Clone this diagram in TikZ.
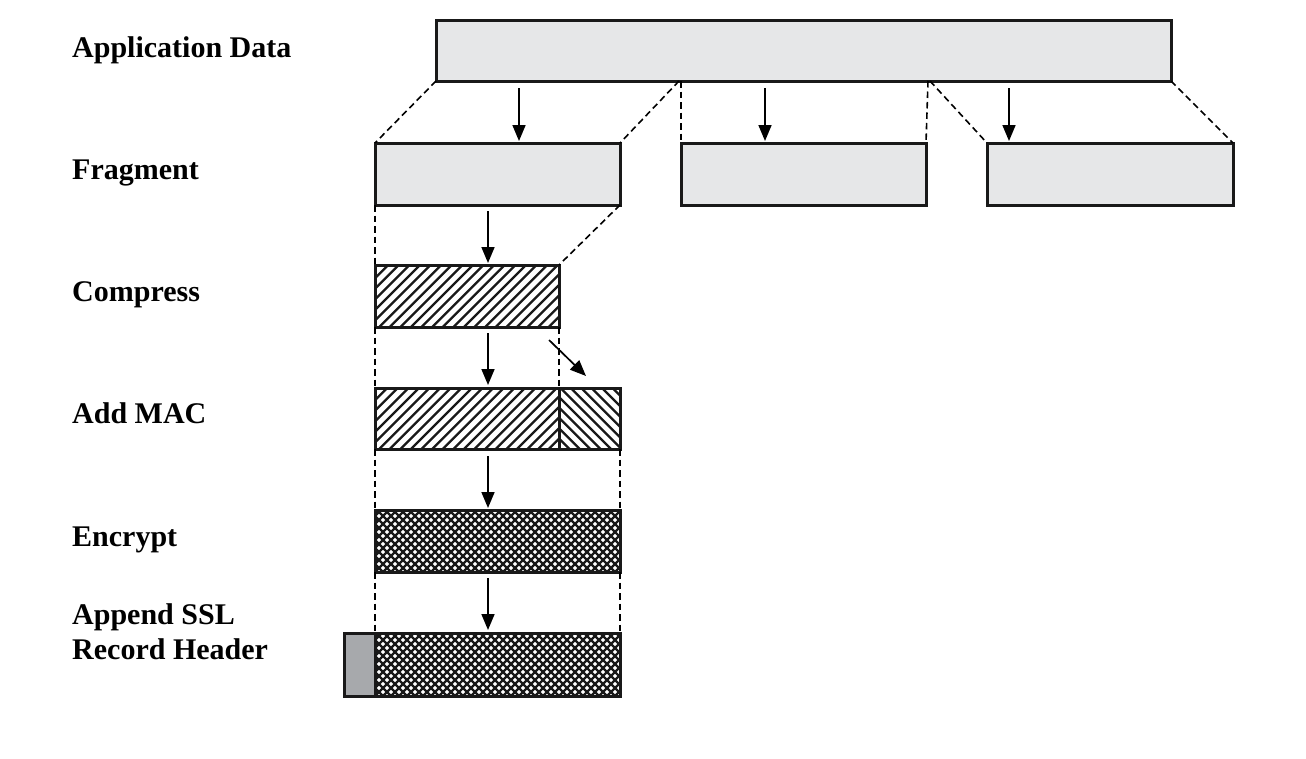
\documentclass[tikz,border=0pt]{standalone}
\usepackage{fontspec}
\setmainfont{Liberation Serif}
\usetikzlibrary{calc,arrows.meta}
\definecolor{lightbox}{HTML}{E6E7E8}
\definecolor{hdrgray}{HTML}{A7A9AC}
\tikzset{
  blk/.style={draw=black!90,line width=3pt,rectangle,inner sep=0pt,outer sep=0pt,anchor=north west},
  plainbox/.style={blk,fill=lightbox},
  nehatch/.style 2 args={path picture={
      \foreach \k in {0,...,48}
        \draw[line width=#2] ($(path picture bounding box.south west)+(\k*#1-70,0)$) -- ++(80,-80);}},
  nwhatch/.style 2 args={path picture={
      \foreach \k in {0,...,48}
        \draw[line width=#2] ($(path picture bounding box.south west)+(\k*#1,0)$) -- ++(-80,-80);}},
  nelines/.style={blk,nehatch={10.6}{2.3pt}},
  nwlines/.style={blk,nwhatch={10.4}{2.3pt}},
  xhatch/.style={blk,path picture={
      \foreach \k in {0,...,50}{
        \draw[line width=2.4pt] ($(path picture bounding box.south west)+(\k*8-72,0)$) -- ++(80,-80);
        \draw[line width=2.4pt] ($(path picture bounding box.south west)+(\k*8,0)$) -- ++(-80,-80);}}},
  hdrbox/.style={blk,fill=hdrgray},
  dline/.style={line width=1.6pt,dash pattern=on 6.5pt off 4pt},
  arr/.style={line width=1.7pt,-{Triangle[length=16pt,width=13pt]}},
  lbl/.style={font=\fontsize{30}{35}\selectfont\bfseries,inner sep=0pt,anchor=base west,align=left}
}
\begin{document}
\begin{tikzpicture}[x=1pt,y=-1pt]
\useasboundingbox (0,0) rectangle (1306,758);
% labels
\node[lbl] (lapp) at (72,57) {Application Data};
\node[lbl] (lfrag) at (72,179) {Fragment};
\node[lbl] (lcmp) at (72,301) {Compress};
\node[lbl] (lmac) at (72,423) {Add MAC};
\node[lbl] (lenc) at (72,546) {Encrypt};
\node[lbl] (lrec) at (72,659) {Append SSL\\Record Header};
% boxes
\node[plainbox,minimum width=735pt,minimum height=61pt] (app) at (436,20) {};
\node[plainbox,minimum width=245pt,minimum height=62pt] (f1) at (375,143) {};
\node[plainbox,minimum width=245pt,minimum height=62pt] (f2) at (681,143) {};
\node[plainbox,minimum width=246pt,minimum height=62pt] (f3) at (987,143) {};
\node[nelines,minimum width=184pt,minimum height=62pt] (cmp) at (375,265) {};
\node[nelines,minimum width=184pt,minimum height=61pt] (mac1) at (375,388) {};
\node[nwlines,minimum width=61pt,minimum height=61pt] (mac2) at (559,388) {};
\node[xhatch,minimum width=245pt,minimum height=62pt] (enc) at (375,510) {};
\node[xhatch,minimum width=245pt,minimum height=63pt] (rec) at (375,633) {};
\node[hdrbox,minimum width=31pt,minimum height=63pt] (hdr) at (344,633) {};
% split points on the application data box
\coordinate (s1) at ($(app.south west)+(243,0)$);
\coordinate (s2) at ($(app.south west)+(245,0)$);
\coordinate (s3) at ($(app.south west)+(492,0)$);
\coordinate (s4) at ($(app.south west)+(494,0)$);
% dashed guide lines
\draw[dline] (app.south west) -- (f1.north west);
\draw[dline] (s1) -- (f1.north east);
\draw[dline] (s2) -- (f2.north west);
\draw[dline] (s3) -- (f2.north east);
\draw[dline] (s4) -- (f3.north west);
\draw[dline] (app.south east) -- (f3.north east);
\draw[dline] (f1.south west) -- (cmp.north west);
\draw[dline] (f1.south east) -- (cmp.north east);
\draw[dline] (cmp.south west) -- (mac1.north west);
\draw[dline] (cmp.south east) -- (mac1.north east);
\draw[dline] (mac1.south west) -- (enc.north west);
\draw[dline] (mac2.south east) -- (enc.north east);
\draw[dline] (enc.south west) -- (rec.north west);
\draw[dline] (enc.south east) -- (rec.north east);
% arrows
\draw[arr] ($(f1.north west)+(144,-55)$) -- ($(f1.north west)+(144,-2)$);
\draw[arr] ($(f2.north west)+(84,-55)$) -- ($(f2.north west)+(84,-2)$);
\draw[arr] ($(f3.north west)+(22,-55)$) -- ($(f3.north west)+(22,-2)$);
\draw[arr] ($(cmp.north west)+(113,-54)$) -- ($(cmp.north west)+(113,-2)$);
\draw[arr] ($(mac1.north west)+(113,-55)$) -- ($(mac1.north west)+(113,-3)$);
\draw[arr] ($(enc.north west)+(113,-54)$) -- ($(enc.north west)+(113,-2)$);
\draw[arr] ($(enc.north west)+(113,68)$) -- ($(rec.north west)+(113,-3)$);
\draw[arr] ($(cmp.south east)+(-10,13)$) -- ($(cmp.south east)+(27,49)$);
\end{tikzpicture}
\end{document}
